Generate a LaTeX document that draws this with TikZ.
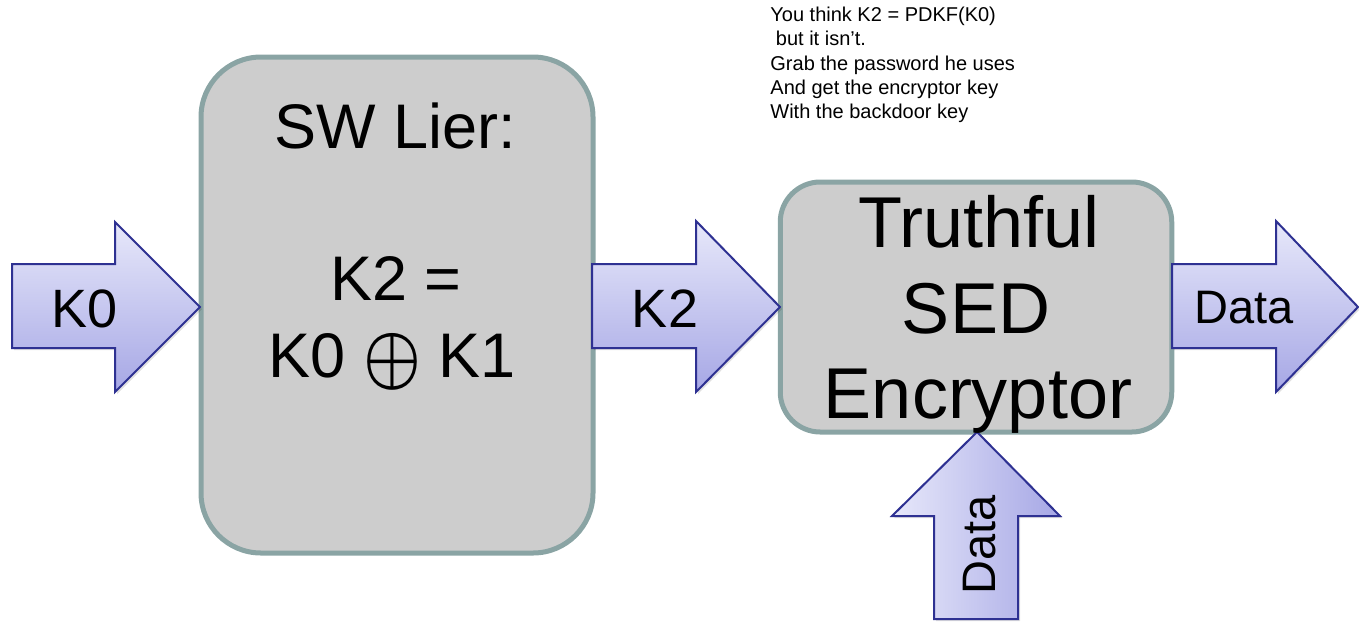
\documentclass[tikz,border=0pt]{standalone}
\usepackage{graphicx}
\usepackage{fontspec}
\setmainfont{Liberation Sans}
\definecolor{arrowtop}{RGB}{231,232,250}
\definecolor{arrowbot}{RGB}{166,167,229}
\definecolor{arrowline}{RGB}{46,49,146}
\definecolor{boxfill}{RGB}{205,205,205}
\definecolor{boxline}{RGB}{138,164,164}
\tikzset{
  blockbox/.style={draw=boxline, fill=boxfill, line width=2.5pt, inner sep=0pt},
  blockarrow/.style={draw=arrowline, line width=1pt, line join=miter, top color=arrowtop, bottom color=arrowbot},
  uparrow/.style={draw=arrowline, line width=1pt, line join=miter, left color=arrowtop, right color=arrowbot},
  arrowshadow/.style={fill=black, opacity=0.12},
  bigL/.style={anchor=base, inner sep=0pt, font=\fontsize{31.5}{36}\selectfont},
  bigR/.style={anchor=base, inner sep=0pt, font=\fontsize{36}{42}\selectfont},
  arrowtext/.style={anchor=base, inner sep=0pt, font=\fontsize{27}{32}\selectfont},
  datatext/.style={anchor=base, inner sep=0pt, font=\fontsize{23.5}{28}\selectfont},
  note/.style={anchor=base west, inner sep=0pt, font=\fontsize{10}{12}\selectfont}
}
\begin{document}
\begin{tikzpicture}[x=0.5pt,y=-0.5pt]
\useasboundingbox (0,0) rectangle (1359,622);
% boxes
\node[blockbox, rounded corners=30pt, minimum width=196pt, minimum height=248pt] (lier) at (397,305) {};
\node[blockbox, rounded corners=20pt, minimum width=195.75pt, minimum height=125pt] (sed) at (976,307) {};
% shadows
\fill[arrowshadow, shift={(2,2)}] (12,264) -- (115,264) -- (115,222) -- (200,307) -- (115,392) -- (115,348) -- (12,348) -- cycle;
\fill[arrowshadow, shift={(2,2)}] (592,264) -- (696,264) -- (696,221) -- (780,307) -- (696,392) -- (696,348) -- (592,348) -- cycle;
\fill[arrowshadow, shift={(2,2)}] (1172,264) -- (1276,264) -- (1276,221) -- (1358,307) -- (1276,392) -- (1276,348) -- (1172,348) -- cycle;
\fill[arrowshadow, shift={(2,2)}] (977,432) -- (1060,516) -- (1018,516) -- (1018,619) -- (934,619) -- (934,516) -- (892,516) -- cycle;
% arrows
\path[blockarrow] (12,264) -- (115,264) -- (115,222) -- (200,307) -- (115,392) -- (115,348) -- (12,348) -- cycle;
\path[blockarrow] (592,264) -- (696,264) -- (696,221) -- (780,307) -- (696,392) -- (696,348) -- (592,348) -- cycle;
\path[blockarrow] (1172,264) -- (1276,264) -- (1276,221) -- (1358,307) -- (1276,392) -- (1276,348) -- (1172,348) -- cycle;
\path[uparrow] (977,432) -- (1060,516) -- (1018,516) -- (1018,619) -- (934,619) -- (934,516) -- (892,516) -- cycle;
% arrow labels
\node[arrowtext] (k0) at (85,327) {K0};
\node[arrowtext] (k2) at (665,327) {K2};
\node[datatext] (dataout) at (1244,323) {Data};
\node[datatext, rotate=90] (datain) at (995,545) {Data};
% left box text
\node[bigL] (lierA) at (395,148) {SW Lier:};
\node[bigL] (lierB) at (396,300) {K2 =};
\node[bigL] (lierC) at (392,377) {K0 \raisebox{-1.5pt}{\resizebox*{29pt}{28.5pt}{\boldmath$\oplus$}} K1};
% right box text
\node[bigR] (sedA) at (979,247) {Truthful};
\node[bigR] (sedB) at (976,333) {SED};
\node[bigR] (sedC) at (978,418) {Encryptor};
% note
\node[note] (n1) at (770,21.7) {You think K2 = PDKF(K0)};
\node[note] (n2) at (770,45.9) {\ but it isn’t.};
\node[note] (n3) at (770,70) {Grab the password he uses};
\node[note] (n4) at (770,94.2) {And get the encryptor key};
\node[note] (n5) at (770,118.3) {With the backdoor key};
\end{tikzpicture}
\end{document}
